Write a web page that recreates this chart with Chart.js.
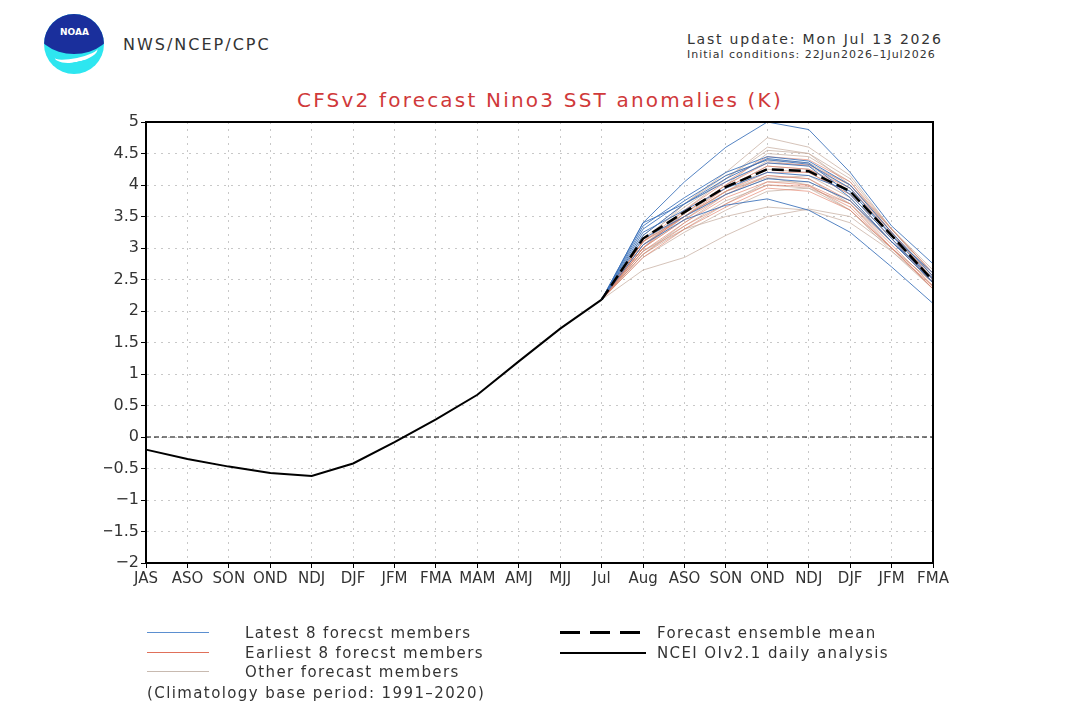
<!DOCTYPE html>
<html>
<head>
<meta charset="utf-8">
<script src="https://cdn.jsdelivr.net/npm/chart.js@4"></script>
<style>
  body { margin: 0; background: #fff; font-family: "DejaVu Sans", sans-serif; color: #333; }
  #wrap { position: relative; width: 1080px; height: 713px; overflow: hidden; }
  #chart { position: absolute; left: 0; top: 0; }
  .txt { position: absolute; white-space: nowrap; }
  .leg { font-size: 15px; letter-spacing: 1.4px; }
  .logo { position: absolute; left: 44px; top: 14px; width: 60px; height: 60px; border-radius: 50%; overflow: hidden;
          background: #2ee6f0; }
  .logo .top { position: absolute; left: -10px; top: -22px; width: 80px; height: 62px; border-radius: 50%; background: #1a2f9c; }
  .logo .bird { position: absolute; left: 10px; top: 30px; width: 44px; height: 14px; border-radius: 50%;
                border-bottom: 4px solid #fff; transform: rotate(-12deg); }
  .logo span { position: absolute; left: 16px; top: 13px; font-size: 9px; font-weight: bold; color: #fff; }
  .swatch { position: absolute; height: 0; }
  .dash { position: absolute; height: 2.5px;
          background: repeating-linear-gradient(90deg, #000 0 20px, transparent 20px 30px); }
</style>
</head>
<body>
<div id="wrap">
  <div class="logo"><div class="top"></div><div class="bird"></div><span>NOAA</span></div>
  <div class="txt" style="left:123px; top:35px; font-size:16px; letter-spacing:2px;">NWS/NCEP/CPC</div>
  <div class="txt" style="left:687px; top:31px; font-size:14px; letter-spacing:1.8px;">Last update: Mon Jul 13 2026</div>
  <div class="txt" style="left:687px; top:48px; font-size:11px; letter-spacing:1px;">Initial conditions: 22Jun2026&#8211;1Jul2026</div>
  <div class="txt" style="left:0; width:1080px; text-align:center; top:88px; font-size:20px; letter-spacing:2.2px; color:#d0393a;">CFSv2 forecast Nino3 SST anomalies (K)</div>
  <canvas id="chart" width="1080" height="713"></canvas>

  <div class="swatch" style="left:147px; top:632px; width:62px; border-top:1.5px solid #5b8fd0;"></div>
  <div class="txt leg" style="left:245px; top:624px;">Latest 8 forecst members</div>
  <div class="swatch" style="left:147px; top:652px; width:62px; border-top:1.5px solid #e0705a;"></div>
  <div class="txt leg" style="left:245px; top:644px;">Earliest 8 forecst members</div>
  <div class="swatch" style="left:147px; top:671px; width:62px; border-top:1.5px solid #c8bab0;"></div>
  <div class="txt leg" style="left:245px; top:663px;">Other forecast members</div>
  <div class="txt leg" style="left:147px; top:684px;">(Climatology base period: 1991&#8211;2020)</div>

  <div class="dash" style="left:560px; top:631px; width:86px;"></div>
  <div class="txt leg" style="left:657px; top:624px;">Forecast ensemble mean</div>
  <div class="swatch" style="left:560px; top:652px; width:86px; border-top:2.5px solid #000;"></div>
  <div class="txt leg" style="left:657px; top:644px;">NCEI OIv2.1 daily analysis</div>
</div>

<script>
// x axis categories (seasons / months)
const labels = ["JAS", "ASO", "SON", "OND", "NDJ", "DJF", "JFM", "FMA", "MAM", "AMJ", "MJJ", "Jul",
                "Aug", "ASO", "SON", "OND", "NDJ", "DJF", "JFM", "FMA"];
const yTicks = [-2, -1.5, -1, -0.5, 0, 0.5, 1, 1.5, 2, 2.5, 3, 3.5, 4, 4.5, 5];

// observed analysis, JAS .. Jul
const observed = [-0.2, -0.35, -0.47, -0.57, -0.62, -0.42, -0.08, 0.28, 0.67, 1.2, 1.72, 2.18];

// forecast start value (Jul) and member forecasts Aug .. FMA
const startValue = 2.18;
const ensembleMean = [3.15, 3.57, 3.97, 4.25, 4.22, 3.9, 3.2, 2.48];

const latestMembers = [
  [3.4, 4.05, 4.6, 5.0, 4.88, 4.2, 3.35, 2.75],
  [3.05, 3.45, 3.68, 3.78, 3.6, 3.25, 2.7, 2.12],
  [3.35, 3.8, 4.2, 4.45, 4.38, 4.0, 3.25, 2.55],
  [3.3, 3.75, 4.15, 4.4, 4.33, 3.95, 3.2, 2.5],
  [3.2, 3.7, 4.1, 4.42, 4.35, 3.85, 3.15, 2.45],
  [3.4, 3.7, 4.05, 4.35, 4.3, 3.8, 3.1, 2.52],
  [3.15, 3.5, 3.85, 4.1, 4.05, 3.75, 3.1, 2.45],
  [3.25, 3.6, 3.95, 4.2, 4.15, 3.9, 3.2, 2.6]
];

const earliestMembers = [
  [3.0, 3.45, 3.85, 4.15, 4.1, 3.75, 3.1, 2.45],
  [3.05, 3.5, 3.95, 4.3, 4.25, 3.95, 3.25, 2.55],
  [2.95, 3.4, 3.8, 4.05, 4.0, 3.7, 3.05, 2.4],
  [3.1, 3.6, 4.05, 4.45, 4.4, 4.05, 3.3, 2.6],
  [2.9, 3.35, 3.7, 4.0, 3.98, 3.65, 3.0, 2.38],
  [3.0, 3.55, 4.0, 4.35, 4.32, 4.0, 3.25, 2.5],
  [3.1, 3.5, 3.9, 4.2, 4.2, 3.85, 3.15, 2.45],
  [2.85, 3.3, 3.65, 3.95, 3.9, 3.6, 3.0, 2.35]
];

const otherMembers = [
  [2.65, 2.85, 3.2, 3.5, 3.62, 3.5, 3.0, 2.45],
  [2.95, 3.3, 3.5, 3.65, 3.6, 3.4, 2.95, 2.4],
  [3.1, 3.7, 4.2, 4.75, 4.6, 4.15, 3.3, 2.6],
  [3.0, 3.6, 4.1, 4.6, 4.5, 4.1, 3.3, 2.55],
  [3.05, 3.55, 4.0, 4.5, 4.45, 4.05, 3.25, 2.5],
  [2.9, 3.4, 3.85, 4.1, 4.15, 3.8, 3.1, 2.45],
  [3.0, 3.45, 3.9, 4.25, 4.2, 3.85, 3.15, 2.5],
  [3.15, 3.65, 4.1, 4.55, 4.5, 4.0, 3.3, 2.6],
  [2.85, 3.25, 3.6, 3.9, 3.95, 3.7, 3.1, 2.5],
  [3.05, 3.5, 3.9, 4.15, 4.1, 3.7, 3.0, 2.35],
  [3.2, 3.7, 4.15, 4.4, 4.35, 4.0, 3.3, 2.65],
  [2.95, 3.35, 3.75, 4.0, 3.95, 3.6, 3.0, 2.45],
  [3.1, 3.55, 3.95, 4.3, 4.25, 3.9, 3.2, 2.55],
  [2.9, 3.3, 3.7, 4.05, 4.05, 3.75, 3.1, 2.5],
  [3.0, 3.5, 4.0, 4.38, 4.3, 3.95, 3.22, 2.52],
  [3.1, 3.5, 3.9, 4.12, 4.0, 3.6, 2.95, 2.35]
];

// put forecast values after the observed part
function forecastSeries(vals) {
  return Array(observed.length - 1).fill(null).concat([startValue], vals);
}

function memberSet(list, color) {
  return list.map(vals => ({
    data: forecastSeries(vals),
    borderColor: color,
    borderWidth: 1,
    pointRadius: 0,
    fill: false
  }));
}

// first dataset is drawn on top
const datasets = [
  { data: observed, borderColor: "#000", borderWidth: 2, pointRadius: 0 },
  { data: forecastSeries(ensembleMean), borderColor: "#000", borderWidth: 2.5, borderDash: [12, 5], pointRadius: 0 }
]
  .concat(memberSet(latestMembers, "rgba(55,110,185,0.85)"))
  .concat(memberSet(earliestMembers, "rgba(225,120,95,0.6)"))
  .concat(memberSet(otherMembers, "rgba(195,170,155,0.7)"));

// frame and zero line
const framePlugin = {
  id: "frame",
  afterDatasetsDraw(chart) {
    const { ctx, chartArea: a, scales } = chart;
    ctx.save();
    const y0 = scales.y.getPixelForValue(0);
    ctx.strokeStyle = "#000";
    ctx.lineWidth = 1;
    ctx.setLineDash([5, 3]);
    ctx.beginPath();
    ctx.moveTo(a.left, y0);
    ctx.lineTo(a.right, y0);
    ctx.stroke();
    ctx.setLineDash([]);
    ctx.lineWidth = 2;
    ctx.strokeRect(a.left, a.top, a.right - a.left, a.bottom - a.top);
    ctx.restore();
  }
};

new Chart(document.getElementById("chart"), {
  type: "line",
  data: { labels: labels, datasets: datasets },
  options: {
    responsive: false,
    animation: false,
    layout: { padding: { left: 104, right: 147, top: 122, bottom: 121 } },
    plugins: { legend: { display: false }, tooltip: { enabled: false } },
    scales: {
      x: {
        grid: { color: "#c8c8c8", tickLength: 5, tickColor: "#000" },
        border: { dash: [2, 5], color: "#000" },
        ticks: { color: "#333", font: { family: "DejaVu Sans", size: 15 }, maxRotation: 0, autoSkip: false, padding: 2 },
        afterFit(scale) { scale.height = 29; }
      },
      y: {
        min: -2,
        max: 5,
        afterBuildTicks(scale) { scale.ticks = yTicks.map(v => ({ value: v })); },
        grid: { color: "#c8c8c8", tickLength: 5, tickColor: "#000" },
        border: { dash: [2, 5], color: "#000" },
        ticks: {
          color: "#333",
          font: { family: "DejaVu Sans", size: 16 },
          padding: 2,
          callback: v => String(v).replace("-", "\u2212")
        },
        afterFit(scale) { scale.width = 42; }
      }
    }
  },
  plugins: [framePlugin]
});
</script>
</body>
</html>
